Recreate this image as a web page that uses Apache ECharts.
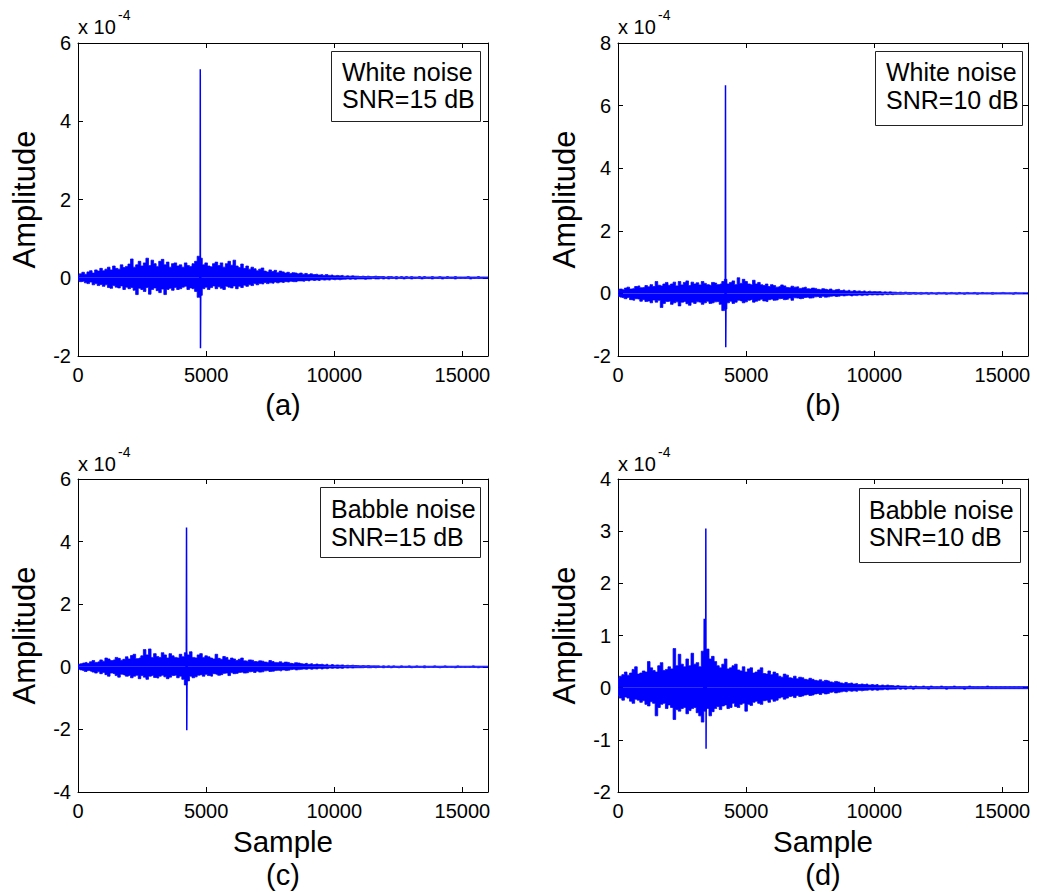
<!DOCTYPE html>
<html><head><meta charset="utf-8">
<script src="https://cdn.jsdelivr.net/npm/echarts@6/dist/echarts.min.js"></script>
<style>html,body{margin:0;padding:0;background:#fff}#c{width:1037px;height:892px}</style>
</head><body><div id="c"></div>
<script>
// ---------------- DATA (amplitudes in units of 1e-4) ----------------
const STEP = 100; // samples between envelope points (index k -> sample k*STEP)
const xMax = 16000;

// Panel (a): white noise, SNR = 15 dB
const upA = [
 0.05,0.10,0.14,0.09,0.15,0.18,0.12,0.20,0.17,0.24,
 0.18,0.22,0.27,0.20,0.30,0.24,0.22,0.33,0.26,0.29,
 0.35,0.48,0.27,0.33,0.42,0.30,0.38,0.50,0.31,0.45,
 0.36,0.29,0.42,0.47,0.33,0.40,0.27,0.36,0.38,0.30,
 0.33,0.27,0.38,0.31,0.29,0.36,0.42,0.55,0.50,0.33,
 0.38,0.30,0.28,0.36,0.40,0.31,0.38,0.27,0.36,0.42,
 0.32,0.45,0.30,0.26,0.35,0.24,0.30,0.22,0.27,0.23,
 0.18,0.22,0.25,0.17,0.15,0.20,0.16,0.19,0.13,0.17,
 0.15,0.12,0.14,0.11,0.13,0.12,0.10,0.12,0.09,0.11,
 0.08,0.10,0.08,0.09,0.07,0.08,0.06,0.08,0.06,0.07,
 0.05,0.06,0.05,0.06,0.04,0.05,0.04,0.05,0.04,0.04,
 0.03,0.04,0.03,0.04,0.03,0.03,0.04,0.03,0.03,0.03,
 0.02,0.03,0.03,0.02,0.03,0.02,0.03,0.02,0.03,0.02,
 0.03,0.02,0.02,0.03,0.02,0.03,0.02,0.02,0.03,0.02,
 0.02,0.03,0.02,0.02,0.03,0.02,0.02,0.03,0.02,0.02,
 0.02,0.02,0.03,0.02,0.02,0.02,0.03,0.02,0.02,0.02,
 0.02];
const loA = [
 -0.06,-0.10,-0.09,-0.13,-0.15,-0.11,-0.18,-0.15,-0.20,-0.17,
 -0.22,-0.18,-0.25,-0.27,-0.20,-0.24,-0.26,-0.21,-0.30,-0.24,
 -0.28,-0.25,-0.32,-0.43,-0.27,-0.30,-0.35,-0.25,-0.42,-0.30,
 -0.26,-0.33,-0.38,-0.29,-0.43,-0.30,-0.27,-0.32,-0.25,-0.30,
 -0.28,-0.24,-0.22,-0.30,-0.26,-0.28,-0.35,-0.50,-0.45,-0.28,
 -0.24,-0.30,-0.25,-0.21,-0.28,-0.23,-0.27,-0.30,-0.22,-0.24,
 -0.26,-0.21,-0.28,-0.22,-0.25,-0.19,-0.22,-0.18,-0.20,-0.15,
 -0.18,-0.15,-0.16,-0.12,-0.15,-0.13,-0.14,-0.11,-0.13,-0.11,
 -0.12,-0.10,-0.11,-0.09,-0.10,-0.10,-0.08,-0.08,-0.09,-0.07,
 -0.08,-0.06,-0.07,-0.06,-0.07,-0.05,-0.06,-0.05,-0.06,-0.04,
 -0.05,-0.04,-0.05,-0.04,-0.04,-0.03,-0.04,-0.03,-0.04,-0.03,
 -0.03,-0.03,-0.04,-0.03,-0.03,-0.02,-0.03,-0.03,-0.02,-0.03,
 -0.02,-0.03,-0.02,-0.02,-0.03,-0.02,-0.02,-0.03,-0.02,-0.02,
 -0.03,-0.02,-0.02,-0.02,-0.03,-0.02,-0.02,-0.02,-0.03,-0.02,
 -0.02,-0.02,-0.03,-0.02,-0.02,-0.02,-0.02,-0.03,-0.02,-0.02,
 -0.02,-0.02,-0.02,-0.03,-0.02,-0.02,-0.02,-0.02,-0.02,-0.02,
 -0.02];
const spikeA = [[4740,0.40],[4765,-0.50],[4772,5.33],[4780,-1.80],[4795,0.30]];

// Panel (b): white noise, SNR = 10 dB
const upB = [
 0.10,0.14,0.12,0.17,0.20,0.14,0.16,0.22,0.24,0.18,
 0.19,0.25,0.21,0.28,0.22,0.38,0.26,0.24,0.30,0.35,
 0.26,0.30,0.36,0.24,0.38,0.27,0.35,0.40,0.25,0.36,
 0.30,0.34,0.27,0.38,0.32,0.28,0.26,0.35,0.33,0.28,
 0.30,0.38,0.45,0.30,0.35,0.40,0.28,0.50,0.32,0.45,
 0.38,0.30,0.28,0.42,0.30,0.35,0.28,0.25,0.30,0.22,
 0.28,0.25,0.20,0.22,0.27,0.24,0.19,0.18,0.23,0.20,
 0.21,0.16,0.18,0.20,0.15,0.14,0.17,0.16,0.13,0.12,
 0.15,0.13,0.11,0.14,0.10,0.12,0.13,0.09,0.11,0.08,
 0.10,0.07,0.09,0.07,0.08,0.06,0.08,0.05,0.07,0.05,
 0.06,0.05,0.06,0.04,0.05,0.04,0.05,0.04,0.04,0.03,
 0.04,0.03,0.04,0.03,0.03,0.03,0.03,0.02,0.03,0.02,
 0.03,0.02,0.03,0.02,0.02,0.03,0.02,0.03,0.02,0.02,
 0.03,0.02,0.02,0.03,0.02,0.02,0.03,0.02,0.02,0.03,
 0.02,0.02,0.03,0.02,0.02,0.02,0.03,0.02,0.02,0.02,
 0.03,0.02,0.02,0.02,0.02,0.03,0.02,0.02,0.02,0.02,
 0.02];
const loB = [
 -0.10,-0.12,-0.14,-0.17,-0.13,-0.20,-0.22,-0.17,-0.18,-0.25,
 -0.20,-0.26,-0.24,-0.30,-0.21,-0.28,-0.22,-0.45,-0.32,-0.26,
 -0.25,-0.35,-0.30,-0.27,-0.40,-0.28,-0.26,-0.33,-0.38,-0.28,
 -0.32,-0.27,-0.28,-0.35,-0.30,-0.25,-0.32,-0.30,-0.27,-0.26,
 -0.35,-0.55,-0.50,-0.30,-0.25,-0.32,-0.28,-0.22,-0.24,-0.30,
 -0.27,-0.22,-0.20,-0.28,-0.25,-0.22,-0.19,-0.24,-0.26,-0.20,
 -0.18,-0.22,-0.21,-0.17,-0.16,-0.20,-0.19,-0.15,-0.22,-0.14,
 -0.15,-0.17,-0.16,-0.13,-0.12,-0.15,-0.14,-0.11,-0.10,-0.13,
 -0.09,-0.12,-0.11,-0.09,-0.08,-0.10,-0.09,-0.07,-0.08,-0.07,
 -0.06,-0.08,-0.06,-0.07,-0.05,-0.07,-0.05,-0.06,-0.04,-0.05,
 -0.04,-0.05,-0.04,-0.05,-0.03,-0.04,-0.03,-0.04,-0.03,-0.03,
 -0.03,-0.03,-0.02,-0.03,-0.03,-0.02,-0.03,-0.02,-0.03,-0.02,
 -0.02,-0.03,-0.02,-0.02,-0.03,-0.02,-0.02,-0.02,-0.03,-0.02,
 -0.02,-0.02,-0.03,-0.02,-0.02,-0.03,-0.02,-0.02,-0.02,-0.02,
 -0.03,-0.02,-0.02,-0.02,-0.02,-0.02,-0.03,-0.02,-0.02,-0.02,
 -0.02,-0.02,-0.02,-0.02,-0.03,-0.02,-0.02,-0.02,-0.02,-0.02,
 -0.02];
const spikeB = [[4170,0.30],[4185,-0.55],[4195,6.65],[4205,-1.72],[4220,0.40]];

// Panel (c): babble noise, SNR = 15 dB
const upC = [
 0.08,0.10,0.12,0.14,0.11,0.16,0.20,0.14,0.16,0.22,
 0.18,0.28,0.25,0.20,0.22,0.30,0.27,0.21,0.24,0.32,
 0.25,0.36,0.40,0.26,0.28,0.35,0.55,0.38,0.57,0.30,
 0.42,0.33,0.30,0.45,0.38,0.28,0.42,0.35,0.30,0.28,
 0.40,0.32,0.45,0.38,0.48,0.30,0.28,0.38,0.42,0.30,
 0.35,0.32,0.28,0.25,0.40,0.27,0.24,0.33,0.30,0.22,
 0.28,0.25,0.20,0.24,0.28,0.19,0.18,0.22,0.21,0.17,
 0.16,0.19,0.18,0.15,0.14,0.20,0.17,0.14,0.13,0.16,
 0.12,0.15,0.14,0.11,0.10,0.13,0.12,0.10,0.09,0.11,
 0.08,0.10,0.07,0.09,0.07,0.08,0.06,0.08,0.05,0.07,
 0.05,0.06,0.05,0.06,0.04,0.05,0.04,0.05,0.04,0.04,
 0.03,0.04,0.03,0.04,0.03,0.03,0.03,0.03,0.02,0.03,
 0.02,0.03,0.02,0.03,0.02,0.02,0.03,0.02,0.02,0.03,
 0.02,0.02,0.03,0.02,0.02,0.03,0.02,0.02,0.02,0.03,
 0.02,0.02,0.02,0.03,0.02,0.02,0.02,0.02,0.03,0.02,
 0.02,0.02,0.02,0.02,0.03,0.02,0.02,0.02,0.02,0.02,
 0.02];
const loC = [
 -0.08,-0.10,-0.12,-0.15,-0.12,-0.14,-0.17,-0.20,-0.16,-0.22,
 -0.18,-0.25,-0.30,-0.20,-0.22,-0.28,-0.33,-0.24,-0.26,-0.30,
 -0.28,-0.35,-0.30,-0.27,-0.38,-0.28,-0.33,-0.40,-0.30,-0.28,
 -0.34,-0.36,-0.30,-0.27,-0.32,-0.38,-0.33,-0.28,-0.27,-0.35,
 -0.30,-0.40,-0.58,-0.45,-0.30,-0.35,-0.32,-0.27,-0.25,-0.30,
 -0.24,-0.28,-0.30,-0.22,-0.24,-0.27,-0.25,-0.21,-0.20,-0.28,
 -0.19,-0.22,-0.21,-0.18,-0.17,-0.20,-0.19,-0.16,-0.15,-0.18,
 -0.14,-0.17,-0.16,-0.13,-0.12,-0.15,-0.14,-0.12,-0.11,-0.13,
 -0.10,-0.12,-0.11,-0.09,-0.08,-0.10,-0.09,-0.08,-0.07,-0.08,
 -0.06,-0.08,-0.06,-0.07,-0.05,-0.07,-0.05,-0.06,-0.04,-0.05,
 -0.04,-0.05,-0.04,-0.05,-0.03,-0.04,-0.03,-0.04,-0.03,-0.03,
 -0.03,-0.03,-0.02,-0.03,-0.03,-0.02,-0.03,-0.02,-0.02,-0.03,
 -0.02,-0.02,-0.03,-0.02,-0.02,-0.03,-0.02,-0.02,-0.02,-0.02,
 -0.03,-0.02,-0.02,-0.02,-0.02,-0.03,-0.02,-0.02,-0.02,-0.02,
 -0.02,-0.03,-0.02,-0.02,-0.02,-0.02,-0.02,-0.03,-0.02,-0.02,
 -0.02,-0.02,-0.02,-0.02,-0.02,-0.02,-0.03,-0.02,-0.02,-0.02,
 -0.02];
const spikeC = [[4215,0.30],[4225,-0.50],[4235,4.45],[4245,-2.03],[4260,0.35]];

// Panel (d): babble noise, SNR = 10 dB
const upD = [
 0.18,0.22,0.25,0.30,0.24,0.28,0.35,0.40,0.26,0.28,
 0.32,0.30,0.50,0.38,0.33,0.30,0.42,0.48,0.33,0.35,
 0.40,0.36,0.75,0.42,0.64,0.45,0.40,0.55,0.42,0.66,
 0.45,0.48,0.40,0.70,0.60,0.74,0.55,0.60,0.50,0.42,
 0.38,0.45,0.55,0.36,0.38,0.42,0.45,0.34,0.32,0.40,
 0.30,0.36,0.38,0.28,0.30,0.34,0.38,0.27,0.26,0.32,
 0.25,0.30,0.27,0.22,0.20,0.26,0.24,0.19,0.18,0.22,
 0.17,0.20,0.19,0.16,0.15,0.18,0.16,0.14,0.13,0.15,
 0.12,0.14,0.13,0.11,0.10,0.12,0.11,0.09,0.08,0.10,
 0.08,0.09,0.07,0.08,0.06,0.07,0.06,0.07,0.05,0.06,
 0.05,0.06,0.04,0.05,0.04,0.05,0.04,0.04,0.03,0.04,
 0.03,0.03,0.03,0.02,0.03,0.02,0.03,0.02,0.02,0.03,
 0.02,0.02,0.03,0.02,0.02,0.02,0.03,0.02,0.02,0.02,
 0.02,0.03,0.02,0.02,0.02,0.02,0.02,0.03,0.02,0.02,
 0.02,0.02,0.02,0.02,0.03,0.02,0.02,0.02,0.02,0.02,
 0.02,0.02,0.02,0.02,0.02,0.02,0.02,0.02,0.02,0.02,
 0.02];
const loD = [
 -0.15,-0.20,-0.24,-0.18,-0.20,-0.26,-0.30,-0.22,-0.24,-0.28,
 -0.25,-0.32,-0.35,-0.27,-0.30,-0.54,-0.38,-0.32,-0.30,-0.40,
 -0.33,-0.38,-0.61,-0.42,-0.45,-0.40,-0.38,-0.50,-0.44,-0.40,
 -0.38,-0.48,-0.54,-0.66,-0.45,-0.40,-0.54,-0.46,-0.40,-0.36,
 -0.42,-0.35,-0.33,-0.40,-0.38,-0.30,-0.36,-0.38,-0.32,-0.30,
 -0.45,-0.32,-0.34,-0.28,-0.26,-0.30,-0.32,-0.25,-0.24,-0.28,
 -0.22,-0.26,-0.24,-0.20,-0.18,-0.22,-0.20,-0.17,-0.16,-0.19,
 -0.15,-0.17,-0.16,-0.14,-0.13,-0.15,-0.14,-0.12,-0.11,-0.13,
 -0.10,-0.12,-0.11,-0.09,-0.08,-0.10,-0.09,-0.08,-0.07,-0.08,
 -0.06,-0.07,-0.06,-0.07,-0.05,-0.06,-0.05,-0.05,-0.04,-0.05,
 -0.04,-0.05,-0.04,-0.04,-0.03,-0.04,-0.03,-0.03,-0.03,-0.02,
 -0.03,-0.02,-0.03,-0.02,-0.02,-0.03,-0.02,-0.02,-0.02,-0.02,
 -0.02,-0.03,-0.02,-0.02,-0.02,-0.02,-0.02,-0.02,-0.03,-0.02,
 -0.02,-0.02,-0.02,-0.02,-0.02,-0.03,-0.02,-0.02,-0.02,-0.02,
 -0.02,-0.02,-0.02,-0.02,-0.02,-0.02,-0.02,-0.02,-0.02,-0.02,
 -0.02,-0.02,-0.02,-0.02,-0.02,-0.02,-0.02,-0.02,-0.02,-0.02,
 -0.02];
const spikeD = [[3340,0.40],[3355,-0.30],[3365,1.32],[3385,0.20],[3420,-0.40],[3427,3.05],[3437,-1.17],[3450,0.74],[3475,0.10]];

// axis ranges [min, max, interval] in units of 1e-4
const yAxisA = [-2, 6, 2];
const yAxisB = [-2, 8, 2];
const yAxisC = [-4, 6, 2];
const yAxisD = [-2, 4, 1];
const xTickInterval = 5000;

// texts
const legendA = ['White noise', 'SNR=15 dB'];
const legendB = ['White noise', 'SNR=10 dB'];
const legendC = ['Babble noise', 'SNR=15 dB'];
const legendD = ['Babble noise', 'SNR=10 dB'];
const tags = ['(a)', '(b)', '(c)', '(d)'];
const yName = 'Amplitude';
const xName = 'Sample';
const scaleText = 'x 10';
const scaleExp = '-4';

// ---------------- LAYOUT ----------------
const FONT = '"Liberation Sans", Arial, Helvetica, sans-serif';
const BLUE = '#0000ff';
const panels = [
  {up: upA, lo: loA, spike: spikeA, y: yAxisA, legend: legendA},
  {up: upB, lo: loB, spike: spikeB, y: yAxisB, legend: legendB},
  {up: upC, lo: loC, spike: spikeC, y: yAxisC, legend: legendC},
  {up: upD, lo: loD, spike: spikeD, y: yAxisD, legend: legendD}
];
const gridPos = [[78, 43], [618, 43], [78, 479], [618, 479]];
const GW = 410, GH = 313;
const boxPos = [[331, 51, 149, 70], [875, 51, 147, 74], [320, 487, 160, 70], [859, 488, 161, 74]];
const legendTextX = [342, 886, 331, 869];
const legendLineY = [[72, 99], [72, 100], [509, 537], [510, 537]];
const tagY = [405, 405, 875, 875];
const scaleY = [[27, 15], [27, 15], [464, 452], [464, 452]];

const grids = [], xAxes = [], yAxes = [], series = [], graphics = [];
const lineAxis = {show: true, onZero: false, lineStyle: {color: '#000', width: 1}};
const tickAxis = {show: true, inside: true, length: 5, lineStyle: {color: '#000', width: 1}};
const plain = v => String(v);

panels.forEach((p, i) => {
  const [gx, gy] = gridPos[i];
  grids.push({left: gx, top: gy, width: GW, height: GH, containLabel: false, outerBoundsMode: 'none'});
  const bottomRow = i >= 2;
  xAxes.push({
    type: 'value', gridIndex: i, position: 'bottom', min: 0, max: xMax, interval: xTickInterval,
    axisLine: lineAxis, axisTick: tickAxis, splitLine: {show: false},
    axisLabel: {fontSize: 20, color: '#000', fontFamily: FONT, margin: 9, showMaxLabel: false, formatter: plain},
    name: bottomRow ? xName : '', nameLocation: 'middle', nameGap: 34,
    nameTextStyle: {fontSize: 29.5, color: '#000', fontFamily: FONT}
  });
  xAxes.push({
    type: 'value', gridIndex: i, position: 'top', min: 0, max: xMax, interval: xTickInterval,
    axisLine: lineAxis, axisTick: tickAxis, splitLine: {show: false}, axisLabel: {show: false}
  });
  yAxes.push({
    type: 'value', gridIndex: i, position: 'left', min: p.y[0], max: p.y[1], interval: p.y[2],
    axisLine: lineAxis, axisTick: tickAxis, splitLine: {show: false},
    axisLabel: {fontSize: 20, color: '#000', fontFamily: FONT, margin: 7, formatter: plain},
    name: yName, nameLocation: 'middle', nameGap: 38, nameRotate: 90,
    nameTextStyle: {fontSize: 31, color: '#000', fontFamily: FONT}
  });
  yAxes.push({
    type: 'value', gridIndex: i, position: 'right', min: p.y[0], max: p.y[1], interval: p.y[2],
    axisLine: lineAxis, axisTick: tickAxis, splitLine: {show: false}, axisLabel: {show: false}
  });
  const common = {type: 'line', xAxisIndex: 2 * i, yAxisIndex: 2 * i, symbol: 'none', silent: true,
    animation: false, clip: true};
  series.push(Object.assign({}, common, {
    data: p.up.map((v, k) => [k * STEP, v]), step: 'middle',
    lineStyle: {color: BLUE, width: 0.8}, areaStyle: {color: BLUE, opacity: 1, origin: 'auto'}
  }));
  series.push(Object.assign({}, common, {
    data: p.lo.map((v, k) => [k * STEP, v]), step: 'middle',
    lineStyle: {color: BLUE, width: 0.8}, areaStyle: {color: BLUE, opacity: 1, origin: 'auto'}
  }));
  series.push(Object.assign({}, common, {
    data: p.spike, z: 3, lineStyle: {color: BLUE, width: 1.5}
  }));

  // legend box
  const [bx, by, bw, bh] = boxPos[i];
  graphics.push({type: 'rect', z: 100, shape: {x: bx + 0.5, y: by + 0.5, width: bw, height: bh},
    style: {fill: '#fff', stroke: '#222', lineWidth: 1}});
  p.legend.forEach((t, j) => {
    graphics.push({type: 'text', z: 101, x: legendTextX[i], y: legendLineY[i][j],
      style: {text: t, fill: '#000', font: '25px ' + FONT, fontSize: 25, fontFamily: FONT,
        align: 'left', verticalAlign: 'middle', textAlign: 'left', textVerticalAlign: 'middle'}});
  });
  // panel tag
  graphics.push({type: 'text', z: 101, x: gx + GW / 2, y: tagY[i],
    style: {text: tags[i], fill: '#000', font: '29px ' + FONT, fontSize: 29, fontFamily: FONT,
      align: 'center', verticalAlign: 'middle', textAlign: 'center', textVerticalAlign: 'middle'}});
  // x 10^-4
  graphics.push({type: 'text', z: 101, x: gx, y: scaleY[i][0],
    style: {text: scaleText, fill: '#000', font: '20px ' + FONT, fontSize: 20, fontFamily: FONT,
      align: 'left', verticalAlign: 'middle', textAlign: 'left', textVerticalAlign: 'middle'}});
  graphics.push({type: 'text', z: 101, x: gx + 40, y: scaleY[i][1],
    style: {text: scaleExp, fill: '#000', font: '14px ' + FONT, fontSize: 14, fontFamily: FONT,
      align: 'left', verticalAlign: 'middle', textAlign: 'left', textVerticalAlign: 'middle'}});
});

const chart = echarts.init(document.getElementById('c'), null, {renderer: 'svg'});
chart.setOption({
  animation: false,
  backgroundColor: '#fff',
  grid: grids, xAxis: xAxes, yAxis: yAxes, series: series, graphic: graphics
});
</script></body></html>
